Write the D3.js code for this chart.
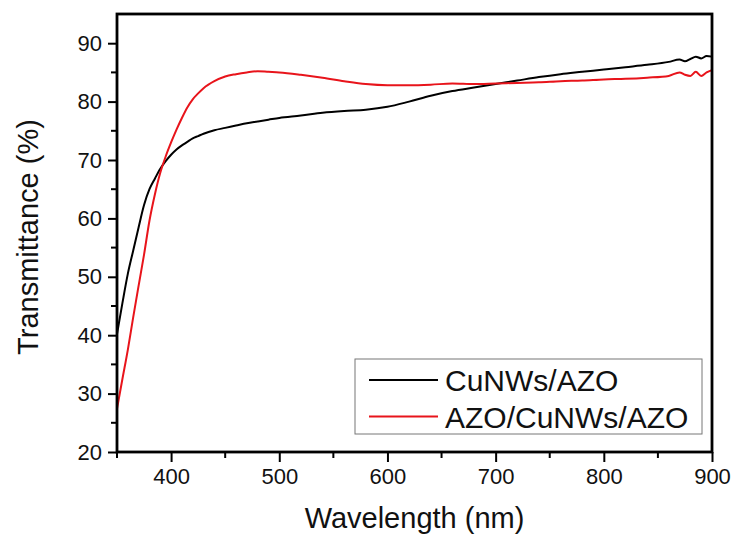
<!DOCTYPE html>
<html>
<head>
<meta charset="utf-8">
<script src="https://cdn.jsdelivr.net/npm/d3@7"></script>
<style>
  html, body { margin: 0; padding: 0; background: #fff; }
  svg { display: block; font-family: Arial, "Liberation Sans", sans-serif; }
</style>
</head>
<body>
<svg id="chart" width="739" height="545"></svg>
<script>
// Transmittance spectra (wavelength in nm, transmittance in %)
const wavelengths = [350, 355, 360, 365, 370, 375, 380, 385, 390, 395, 400, 405, 410, 415, 420, 425, 430, 440, 450, 460, 470, 480, 490, 500, 520, 540, 560, 580, 600, 620, 640, 660, 680, 700, 720, 740, 760, 780, 800, 820, 840, 860, 870, 875, 880, 885, 890, 895, 900];
const cuNWsAZO = [40.2, 45.5, 50.5, 54.5, 58.5, 62.3, 65.0, 66.8, 68.5, 69.8, 70.9, 71.8, 72.5, 73.1, 73.7, 74.1, 74.5, 75.1, 75.5, 75.9, 76.3, 76.6, 76.9, 77.2, 77.6, 78.1, 78.4, 78.6, 79.1, 80.0, 81.0, 81.8, 82.4, 83.0, 83.6, 84.2, 84.7, 85.1, 85.5, 85.9, 86.3, 86.8, 87.2, 86.9, 87.3, 87.7, 87.4, 87.8, 87.7];
const azoCuNWsAZO = [27.4, 32.5, 37.5, 43.1, 48.5, 53.8, 59.6, 64.1, 67.8, 70.6, 73.0, 75.2, 77.2, 79.0, 80.4, 81.4, 82.3, 83.5, 84.3, 84.7, 85.0, 85.2, 85.1, 85.0, 84.6, 84.1, 83.5, 83.0, 82.8, 82.8, 82.9, 83.1, 83.0, 83.1, 83.2, 83.3, 83.5, 83.6, 83.8, 83.9, 84.1, 84.4, 85.0, 84.6, 84.4, 85.1, 84.4, 85.0, 85.4];

const seriesNames = ["CuNWs/AZO", "AZO/CuNWs/AZO"];
const seriesColors = ["#000000", "#e8141b"];
const xTicks = [400, 500, 600, 700, 800, 900];
const yTicks = [20, 30, 40, 50, 60, 70, 80, 90];

const svg = d3.select("#chart");
const plotL = 117, plotR = 712, plotT = 14, plotB = 452;

const x = d3.scaleLinear().domain([350, 900]).range([plotL, plotR]);
const y = d3.scaleLinear().domain([20, 95]).range([plotB, plotT]);

// Curves
const line = d3.line()
  .x((d, i) => x(wavelengths[i]))
  .y(d => y(d))
  .curve(d3.curveMonotoneX);

[cuNWsAZO, azoCuNWsAZO].forEach((vals, k) => {
  svg.append("path")
    .attr("d", line(vals))
    .attr("fill", "none")
    .attr("stroke", seriesColors[k])
    .attr("stroke-width", 2)
    .attr("stroke-linejoin", "round");
});

// Minor ticks
const xMinor = d3.range(350, 901, 50).filter(v => v % 100 !== 0);
const yMinor = d3.range(25, 95, 10);

const xAxis = svg.append("g").attr("transform", `translate(0,${plotB})`)
  .call(d3.axisBottom(x).tickValues(xTicks).tickSize(10).tickPadding(6).tickFormat(d3.format("d")));
const yAxis = svg.append("g").attr("transform", `translate(${plotL},0)`)
  .call(d3.axisLeft(y).tickValues(yTicks).tickSize(9).tickPadding(6).tickFormat(d3.format("d")));

[xAxis, yAxis].forEach(g => {
  g.select(".domain").remove();
  g.selectAll(".tick line").attr("stroke", "#000").attr("stroke-width", 2);
  g.selectAll(".tick text").attr("fill", "#111").style("font-size", "22px");
});

svg.append("g").selectAll("line").data(xMinor).join("line")
  .attr("x1", d => x(d)).attr("x2", d => x(d))
  .attr("y1", plotB).attr("y2", plotB + 6)
  .attr("stroke", "#000").attr("stroke-width", 2);
svg.append("g").selectAll("line").data(yMinor).join("line")
  .attr("y1", d => y(d)).attr("y2", d => y(d))
  .attr("x1", plotL).attr("x2", plotL - 6)
  .attr("stroke", "#000").attr("stroke-width", 2);

// Frame
svg.append("rect")
  .attr("x", plotL).attr("y", plotT)
  .attr("width", plotR - plotL).attr("height", plotB - plotT)
  .attr("fill", "none").attr("stroke", "#000").attr("stroke-width", 2.8);

// Axis titles
svg.append("text")
  .attr("x", (plotL + plotR) / 2).attr("y", 528)
  .attr("text-anchor", "middle")
  .style("font-size", "29px").attr("fill", "#111")
  .text("Wavelength (nm)");

svg.append("text")
  .attr("transform", `translate(38,${(plotT + plotB) / 2 + 4}) rotate(-90)`)
  .attr("text-anchor", "middle")
  .style("font-size", "29px").attr("fill", "#111")
  .text("Transmittance (%)");

// Legend
const legend = svg.append("g");
legend.append("rect")
  .attr("x", 355).attr("y", 359).attr("width", 347).attr("height", 75)
  .attr("fill", "#fff").attr("stroke", "#777").attr("stroke-width", 1);
seriesNames.forEach((name, i) => {
  const cy = 380 + i * 36.5;
  legend.append("line")
    .attr("x1", 369).attr("x2", 438).attr("y1", cy).attr("y2", cy)
    .attr("stroke", seriesColors[i]).attr("stroke-width", 2);
  legend.append("text")
    .attr("x", 445).attr("y", cy + 11)
    .style("font-size", "30px").attr("fill", "#111")
    .text(name);
});
</script>
</body>
</html>
